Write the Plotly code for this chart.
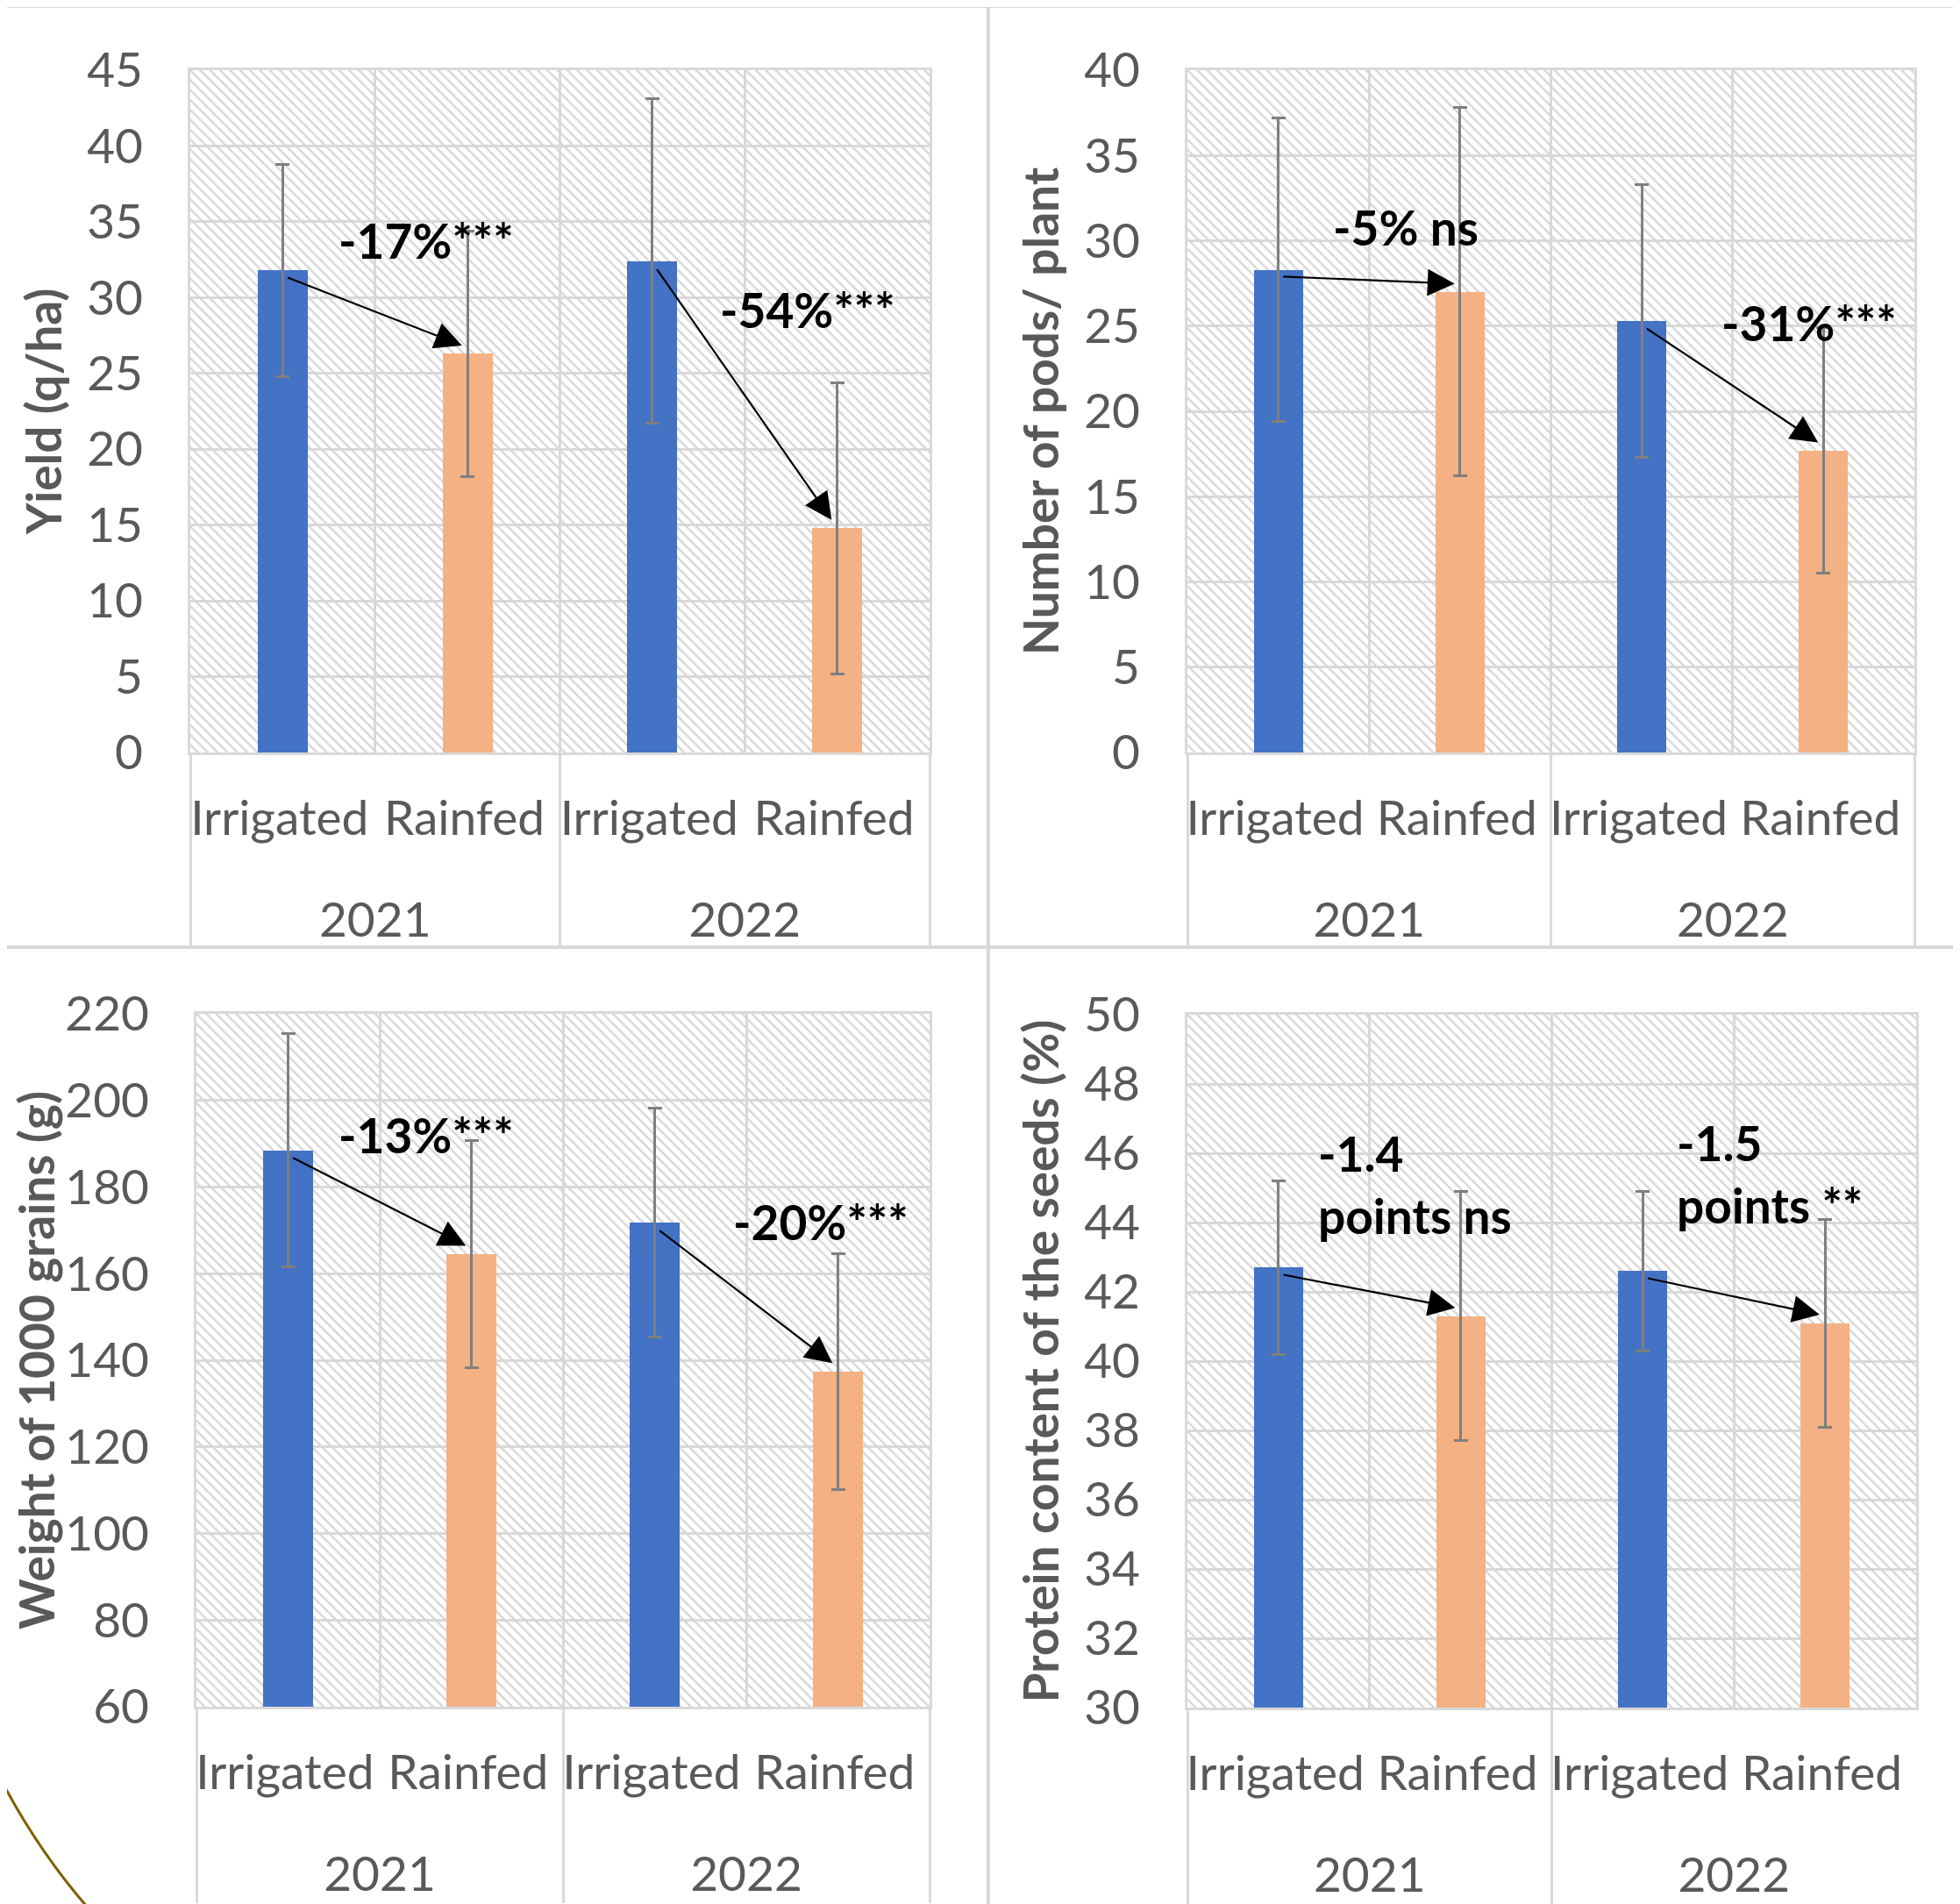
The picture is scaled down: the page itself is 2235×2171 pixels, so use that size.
import plotly.graph_objects as go

# ---------------- data ----------------
years = ["2021", "2021", "2022", "2022"]
regimes = ["Irrigated", "Rainfed", "Irrigated", "Rainfed"]

yield_mean = [31.8, 26.3, 32.4, 14.8]
yield_sd = [7.0, 8.1, 10.7, 9.6]

pods_mean = [28.3, 27.0, 25.3, 17.7]
pods_sd = [8.9, 10.8, 8.0, 7.2]

weight_mean = [188.5, 164.5, 171.8, 137.4]
weight_sd = [26.9, 26.2, 26.4, 27.2]

protein_mean = [42.7, 41.3, 42.6, 41.1]
protein_sd = [2.5, 3.6, 2.3, 3.0]

yield_labels = ["-17%***", "-54%***"]
pods_labels = ["-5% ns", "-31%***"]
weight_labels = ["-13%***", "-20%***"]
protein_labels = [["-1.4", "points ns"], ["-1.5", "points **"]]

# ---------------- styling ----------------
W, H = 2235, 2171
OFF = 8  # page body margin
FONT = "Lato, 'Open Sans', sans-serif"
GRID = "#D9D9D9"
TXT = "#595959"
BLUE = "#4472C4"
ORANGE = "#F4B183"
FS = 55
# invisible tall spacer, widens the gap between the two category levels
PAD = '<span style="font-size:116px">\u200a</span>'

def px_x(v):
    return (v - OFF) / W

def px_y(v):
    return 1 - (v - OFF) / H

panels = [
    dict(mean=yield_mean, sd=yield_sd, title="Yield (q/ha)", rng=[0, 45], dtick=5,
         dom_x=[px_x(217), px_x(1060)], dom_y=[px_y(858), px_y(80)],
         labels=yield_labels, label_pos=[(0.777, 33.8), (2.84, 29.2)]),
    dict(mean=pods_mean, sd=pods_sd, title="Number of pods/ plant", rng=[0, 40], dtick=5,
         dom_x=[px_x(1354), px_x(2183)], dom_y=[px_y(858), px_y(80)],
         labels=pods_labels, label_pos=[(0.70, 30.8), (2.92, 25.2)]),
    dict(mean=weight_mean, sd=weight_sd, title="Weight of 1000 grains (g)", rng=[60, 220], dtick=20,
         dom_x=[px_x(224), px_x(1060)], dom_y=[px_y(1946), px_y(1156)],
         labels=weight_labels, label_pos=[(0.754, 192), (2.907, 172)]),
    dict(mean=protein_mean, sd=protein_sd, title="Protein content of the seeds (%)", rng=[30, 50], dtick=2,
         dom_x=[px_x(1354), px_x(2185)], dom_y=[px_y(1947), px_y(1157)],
         labels=protein_labels, label_pos=[(0.207, 46.0, 44.2), (2.176, 46.3, 44.5)]),
]

fig = go.Figure()
annotations = []
colors = [BLUE if r == "Irrigated" else ORANGE for r in regimes]
regime_text = [r + PAD for r in regimes]
xcats = [years, regime_text]

for i, p in enumerate(panels):
    k = i + 1
    xa = "x" if k == 1 else f"x{k}"
    ya = "y" if k == 1 else f"y{k}"
    lo, hi = p["rng"]
    span = hi - lo
    # hatched plot-area background
    fig.add_trace(go.Bar(
        x=xcats, y=[span] * len(regimes), base=[lo] * len(regimes),
        width=1.0, xaxis=xa, yaxis=ya, hoverinfo="skip", showlegend=False,
        marker=dict(color="#D6D6D6", line=dict(width=0),
                    pattern=dict(shape="\\", size=8, solidity=0.3, fillmode="replace")),
    ))
    # data bars with standard deviation
    fig.add_trace(go.Bar(
        x=xcats, y=[m - lo for m in p["mean"]], base=[lo] * len(regimes), width=0.27,
        xaxis=xa, yaxis=ya, showlegend=False,
        marker=dict(color=colors, line=dict(width=0)),
        error_y=dict(type="data", array=p["sd"], visible=True, color="#7F7F7F",
                     thickness=3, width=8),
    ))

    fig.layout[("xaxis" if k == 1 else f"xaxis{k}")] = dict(
        domain=p["dom_x"], anchor=ya, type="multicategory", automargin=False,
        tickson="boundaries", showgrid=True, gridcolor=GRID, gridwidth=3,
        showline=True, linecolor=GRID, linewidth=3, mirror=True,
        showdividers=True, dividercolor=GRID, dividerwidth=3,
        ticks="", ticklabelstandoff=25, tickangle=0,
        tickfont=dict(family=FONT, size=FS, color=TXT),
        range=[-0.5, 3.5], fixedrange=True,
    )
    fig.layout[("yaxis" if k == 1 else f"yaxis{k}")] = dict(
        domain=p["dom_y"], anchor=xa, range=p["rng"], dtick=p["dtick"], automargin=False,
        showgrid=True, gridcolor=GRID, gridwidth=3, zeroline=False,
        showline=True, linecolor=GRID, linewidth=3, mirror=True,
        ticks="outside", ticklen=40, tickcolor="rgba(0,0,0,0)",
        tickfont=dict(family=FONT, size=FS, color=TXT),
        title=dict(text=p["title"], standoff=11,
                   font=dict(family=FONT, size=FS, color=TXT, weight="bold")),
        fixedrange=True,
    )

    # arrows from irrigated to rainfed bar
    for a, b in [(0, 1), (2, 3)]:
        annotations.append(dict(
            xref=xa, yref=ya, axref=xa, ayref=ya,
            x=b - 0.03, y=p["mean"][b] + 0.012 * span,
            ax=a + 0.02, ay=p["mean"][a] - 0.01 * span,
            text="", showarrow=True, arrowhead=2, arrowsize=2.8, arrowwidth=2.2,
            arrowcolor="black", standoff=0, startstandoff=0,
        ))
    # change labels
    for j, lab in enumerate(p["labels"]):
        pos = p["label_pos"][j]
        if isinstance(lab, list):
            for line, yy in zip(lab, pos[1:]):
                annotations.append(dict(
                    xref=xa, yref=ya, x=pos[0], y=yy, text=line, showarrow=False,
                    xanchor="left", yanchor="middle",
                    font=dict(family=FONT, size=FS, color="black", weight="bold"),
                ))
        else:
            annotations.append(dict(
                xref=xa, yref=ya, x=pos[0], y=pos[1], text=lab, showarrow=False,
                xanchor="center", yanchor="middle",
                font=dict(family=FONT, size=FS, color="black", weight="bold"),
            ))

shapes = [
    dict(type="line", xref="paper", yref="paper", x0=0, x1=1, y0=px_y(7), y1=px_y(7),
         line=dict(color=GRID, width=4)),
    dict(type="line", xref="paper", yref="paper", x0=px_x(1127), x1=px_x(1127), y0=0, y1=px_y(7),
         line=dict(color=GRID, width=4)),
    dict(type="line", xref="paper", yref="paper", x0=0, x1=1, y0=px_y(1080), y1=px_y(1080),
         line=dict(color=GRID, width=4)),
    dict(type="path", xref="paper", yref="paper",
         path=f"M {px_x(0)},{px_y(2027)} Q {px_x(42)},{px_y(2108)} {px_x(100)},{px_y(2175)}",
         line=dict(color="#7F5F00", width=3)),
]

fig.update_layout(
    width=W, height=H, autosize=False,
    margin=dict(l=0, r=0, t=0, b=0, pad=0),
    paper_bgcolor="white", plot_bgcolor="white",
    barmode="overlay", bargap=0,
    annotations=annotations, shapes=shapes,
    font=dict(family=FONT, color=TXT),
)

fig.write_html("out.html")
